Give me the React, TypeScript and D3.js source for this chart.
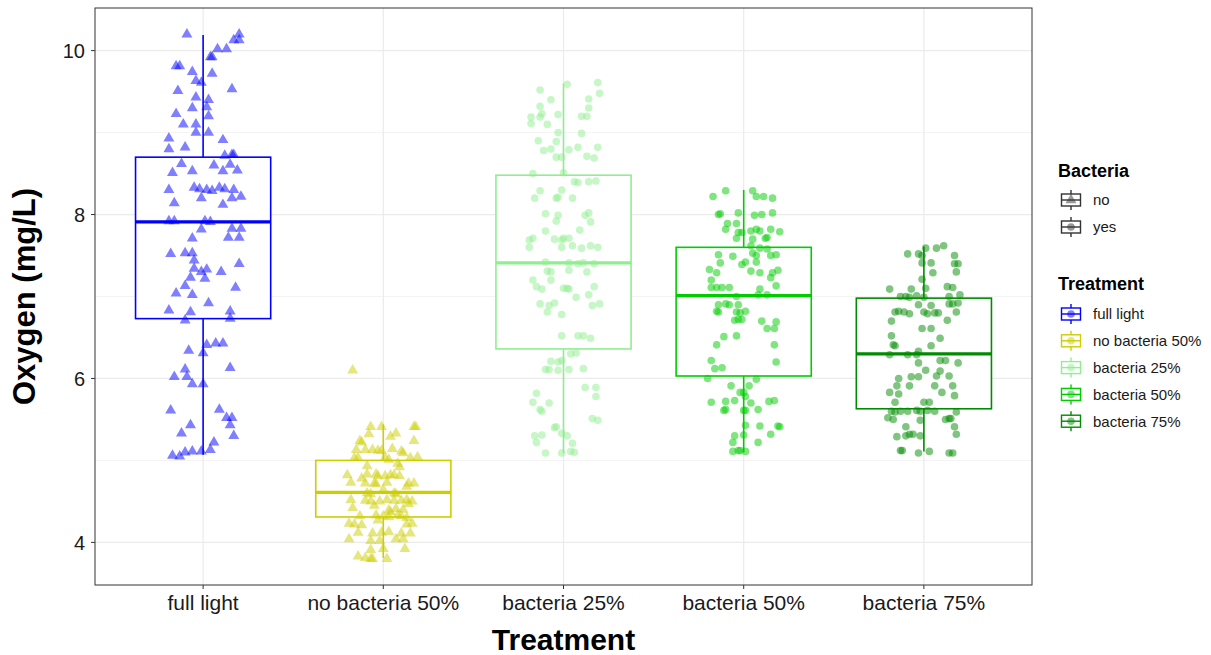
import React, { useEffect, useRef } from "react";
import * as d3 from "d3";

const categories = ["full light", "no bacteria 50%", "bacteria 25%", "bacteria 50%", "bacteria 75%"];
const colors = ["#0000FF", "#CDCD00", "#90EE90", "#00CD00", "#008B00"];
const bacteria = ["no", "no", "yes", "yes", "yes"];
const yTicks = [4, 6, 8, 10];
const yMinor = [5, 7, 9];

// box stats: [whiskerLow, q1, median, q3, whiskerHigh]
const boxStats: number[][] = [
  [5.07, 6.73, 7.91, 8.7, 10.19],
  [3.81, 4.31, 4.61, 5.0, 5.44],
  [5.09, 6.36, 7.41, 8.48, 9.6],
  [5.1, 6.03, 7.01, 7.6, 8.3],
  [5.11, 5.63, 6.3, 6.98, 7.61],
];

// jittered points: [jitter offset in category units, oxygen value]
const fullLight: number[][] = [
  [-0.09,10.2],[0.2,10.2],[0.17,10.13],[0.2,10.13],[0.08,10.02],[0.13,10.02],[0.04,9.92],[0.05,9.92],[-0.15,9.81],[-0.13,9.81],
  [-0.06,9.74],[0.05,9.72],[-0.04,9.63],[-0.01,9.61],[-0.14,9.51],[0.16,9.53],[-0.04,9.43],[0.03,9.4],[-0.06,9.3],[0.02,9.31],
  [-0.15,9.23],[0.03,9.2],[-0.11,9.1],[-0.04,9.1],[-0.04,9.0],[0.03,9.0],[-0.19,8.93],[0.11,8.91],[-0.19,8.8],[-0.1,8.82],
  [0.12,8.72],[0.16,8.73],[0.17,8.73],[-0.12,8.62],[0.06,8.6],[0.15,8.61],[-0.17,8.51],[-0.06,8.53],[0.11,8.53],[0.19,8.54],
  [-0.19,8.3],[-0.05,8.33],[-0.02,8.31],[0.02,8.3],[0.05,8.29],[0.09,8.33],[0.12,8.31],[0.17,8.3],[0.16,8.2],[0.21,8.22],
  [-0.01,8.2],[-0.16,8.14],[0.11,8.12],[-0.19,7.92],[-0.16,7.92],[0.01,7.92],[0.04,7.91],[0.16,7.83],[0.21,7.83],[-0.01,7.82],
  [-0.06,7.71],[0.14,7.72],[0.2,7.72],[-0.18,7.52],[-0.1,7.53],[-0.06,7.53],[-0.05,7.44],[-0.05,7.34],[0.02,7.33],[-0.01,7.3],
  [0.1,7.3],[-0.07,7.23],[0.01,7.22],[0.2,7.4],[-0.1,7.13],[0.18,7.11],[-0.15,7.04],[-0.06,7.02],[0.03,6.92],[-0.19,6.83],
  [-0.07,6.81],[0.15,6.82],[-0.1,6.71],[0.15,6.73],[0.02,6.41],[0.07,6.43],[0.11,6.43],[-0.08,6.34],[0.0,6.31],[-0.1,6.11],
  [0.15,6.13],[-0.16,6.02],[-0.09,6.02],[-0.06,5.93],[0.0,5.93],[-0.18,5.61],[0.09,5.62],[-0.07,5.43],[0.13,5.52],[0.16,5.52],
  [0.15,5.43],[0.17,5.3],[-0.12,5.33],[0.06,5.22],[0.04,5.13],[-0.01,5.11],[-0.06,5.11],[-0.1,5.1],[-0.17,5.06],[-0.13,5.05],
];

const noBacteria50: number[][] = [
  [-0.17,6.1],[-0.07,5.41],[-0.01,5.41],[0.17,5.41],[0.18,5.41],[-0.08,5.32],[0.07,5.33],[0.04,5.29],[-0.13,5.24],[-0.12,5.22],
  [0.17,5.24],[-0.15,5.13],[-0.1,5.13],[-0.06,5.13],[-0.03,5.12],[-0.01,5.12],[0.05,5.14],[0.1,5.11],[0.11,5.09],[-0.16,5.03],
  [-0.14,5.03],[0.01,5.03],[0.03,5.01],[0.15,5.03],[0.19,5.04],[-0.09,4.93],[0.09,4.92],[-0.2,4.82],[-0.09,4.83],[-0.04,4.83],
  [-0.03,4.81],[0.01,4.81],[0.04,4.82],[0.06,4.82],[0.09,4.81],[-0.18,4.73],[-0.1,4.72],[-0.05,4.72],[-0.04,4.71],[0.02,4.73],
  [0.14,4.72],[0.17,4.72],[0.13,4.68],[-0.09,4.6],[-0.07,4.59],[0.06,4.6],[0.07,4.59],[-0.18,4.52],[-0.1,4.51],[-0.07,4.5],
  [-0.02,4.5],[0.02,4.52],[0.06,4.51],[0.1,4.51],[0.13,4.52],[0.16,4.5],[-0.17,4.42],[0.03,4.39],[0.04,4.37],[0.07,4.41],
  [0.11,4.4],[-0.04,4.33],[0.0,4.32],[0.03,4.31],[0.08,4.33],[0.1,4.32],[0.13,4.3],[-0.13,4.32],[-0.19,4.23],[-0.16,4.22],
  [-0.12,4.21],[0.13,4.22],[0.16,4.23],[-0.14,4.12],[-0.06,4.11],[-0.01,4.12],[0.03,4.13],[0.1,4.11],[0.15,4.11],[-0.19,4.04],
  [-0.07,4.02],[-0.02,4.02],[0.07,4.04],[0.11,4.04],[-0.07,3.91],[0.0,3.92],[0.12,3.92],[-0.14,3.83],[-0.1,3.81],[-0.07,3.8],
  [-0.06,3.8],[0.02,3.8],[-0.05,4.45],[0.0,4.64],[-0.12,4.78],[0.08,4.96],[-0.03,4.27],[0.14,4.47],
];

const bacteria25: number[][] = [
  [0.02,9.59],[0.19,9.61],[0.2,9.48],[-0.13,9.52],[-0.07,9.4],[0.14,9.41],[-0.13,9.32],[0.14,9.3],[-0.12,9.23],[-0.13,9.19],
  [-0.18,9.19],[-0.03,9.22],[0.1,9.2],[0.13,9.2],[-0.18,9.11],[-0.09,9.1],[-0.03,9.0],[0.1,8.99],[-0.14,8.9],[-0.04,8.89],
  [-0.11,8.78],[-0.07,8.8],[0.03,8.79],[0.08,8.82],[0.19,8.82],[-0.04,8.7],[-0.01,8.7],[0.13,8.71],[0.17,8.69],[-0.17,8.5],
  [0.0,8.51],[0.06,8.4],[0.08,8.39],[0.14,8.4],[0.18,8.41],[-0.13,8.29],[-0.01,8.3],[-0.16,8.2],[-0.04,8.2],[-0.03,8.21],
  [0.05,8.2],[-0.1,8.01],[-0.03,7.99],[0.12,7.99],[0.14,8.02],[-0.04,7.92],[0.15,7.91],[-0.1,7.8],[0.09,7.81],[-0.19,7.69],
  [-0.17,7.71],[-0.05,7.7],[-0.01,7.69],[0.0,7.71],[0.03,7.71],[-0.19,7.6],[-0.01,7.6],[0.05,7.62],[0.1,7.59],[0.15,7.62],
  [0.19,7.6],[-0.1,7.42],[0.03,7.41],[0.08,7.4],[0.11,7.41],[0.17,7.4],[-0.09,7.31],[-0.07,7.3],[0.03,7.32],[0.13,7.3],
  [-0.17,7.2],[-0.07,7.2],[-0.15,7.12],[-0.12,7.09],[0.0,7.1],[0.03,7.09],[0.02,7.1],[0.17,7.12],[0.07,6.99],[0.14,7.02],
  [-0.13,6.91],[-0.08,6.89],[-0.05,6.92],[0.16,6.89],[0.2,6.91],[-0.09,6.81],[-0.01,6.78],[-0.01,6.52],[0.08,6.52],[0.11,6.52],
  [0.15,6.49],[0.04,6.3],[0.07,6.31],[-0.07,6.21],[-0.03,6.2],[-0.01,6.22],[-0.1,6.11],[-0.08,6.11],[-0.03,6.1],[0.03,6.11],
  [0.11,6.12],[0.12,5.89],[0.18,5.89],[0.18,5.78],[-0.15,5.82],[-0.17,5.71],[-0.08,5.7],[-0.13,5.62],[-0.12,5.6],[0.16,5.51],
  [0.19,5.49],[-0.05,5.4],[-0.04,5.41],[-0.16,5.3],[-0.12,5.31],[-0.01,5.33],[0.02,5.3],[-0.15,5.22],[0.05,5.21],[-0.1,5.09],
  [-0.01,5.09],[0.04,5.11],[0.06,5.1],
];

const bacteria50: number[][] = [
  [-0.1,8.29],[0.05,8.29],[-0.17,8.22],[0.07,8.22],[0.11,8.22],[0.16,8.2],[-0.14,8.0],[-0.13,8.01],[-0.03,8.02],[0.06,7.99],
  [0.1,8.0],[0.16,8.02],[-0.09,7.89],[-0.04,7.89],[-0.1,7.82],[-0.03,7.78],[-0.01,7.78],[0.04,7.8],[0.07,7.82],[0.09,7.8],
  [0.15,7.82],[0.2,7.79],[-0.04,7.71],[0.05,7.7],[0.12,7.71],[0.13,7.72],[0.04,7.62],[0.09,7.59],[0.13,7.58],[-0.14,7.51],
  [-0.06,7.49],[0.05,7.53],[0.07,7.5],[0.15,7.5],[0.18,7.51],[-0.13,7.41],[-0.01,7.39],[0.01,7.42],[0.07,7.42],[-0.19,7.33],
  [-0.15,7.29],[0.04,7.31],[0.09,7.29],[0.16,7.29],[0.19,7.32],[-0.18,7.2],[0.15,7.23],[-0.18,7.11],[-0.15,7.11],[-0.12,7.11],
  [-0.08,7.11],[0.18,7.13],[0.09,7.09],[0.08,7.02],[0.13,7.02],[-0.04,7.0],[-0.14,6.9],[-0.1,6.91],[-0.08,6.9],[-0.03,6.9],
  [-0.15,6.82],[-0.14,6.81],[-0.04,6.81],[-0.02,6.8],[0.01,6.82],[-0.05,6.71],[-0.03,6.72],[-0.01,6.72],[0.1,6.7],[0.18,6.69],
  [0.13,6.61],[0.17,6.61],[-0.11,6.51],[-0.04,6.52],[-0.15,6.41],[0.17,6.41],[-0.18,6.22],[0.18,6.2],[-0.16,6.12],[-0.12,6.13],
  [-0.2,6.0],[0.07,5.99],[-0.07,5.91],[0.03,5.91],[-0.02,5.83],[0.0,5.83],[0.01,5.78],[-0.18,5.71],[-0.1,5.72],[-0.05,5.73],
  [0.04,5.7],[0.14,5.72],[0.17,5.73],[-0.11,5.61],[-0.1,5.62],[0.0,5.61],[0.01,5.61],[0.08,5.62],[0.01,5.43],[0.09,5.42],
  [0.19,5.42],[0.2,5.41],[-0.05,5.3],[0.0,5.31],[0.15,5.32],[-0.06,5.22],[0.08,5.22],[-0.06,5.11],[-0.03,5.12],[-0.02,5.12],
  [0.01,5.11],
];

const bacteria75: number[][] = [
  [0.01,7.59],[0.07,7.59],[0.11,7.62],[-0.09,7.52],[-0.03,7.52],[-0.01,7.5],[0.17,7.5],[-0.01,7.41],[0.04,7.41],[0.17,7.4],
  [0.19,7.4],[0.05,7.29],[0.18,7.3],[-0.01,7.21],[-0.19,7.09],[-0.07,7.09],[0.01,7.1],[0.13,7.12],[0.16,7.11],[-0.13,7.0],
  [-0.1,7.0],[-0.08,6.99],[-0.04,7.01],[0.0,6.99],[0.14,7.0],[0.2,7.02],[-0.03,6.9],[0.04,6.89],[0.14,6.91],[0.16,6.91],
  [0.19,6.92],[-0.16,6.81],[-0.14,6.82],[-0.11,6.81],[-0.08,6.79],[0.0,6.81],[0.02,6.79],[0.06,6.8],[0.08,6.8],[0.18,6.81],
  [-0.18,6.7],[0.13,6.71],[-0.01,6.61],[0.04,6.61],[-0.18,6.52],[0.09,6.49],[-0.17,6.41],[-0.16,6.4],[0.04,6.4],[-0.19,6.29],
  [-0.09,6.29],[-0.04,6.29],[-0.03,6.33],[-0.03,6.19],[0.09,6.22],[0.12,6.22],[0.19,6.19],[0.01,6.1],[0.09,6.09],[-0.14,6.0],
  [-0.03,6.02],[-0.07,6.02],[0.07,6.03],[0.14,6.03],[-0.15,5.91],[-0.08,5.91],[0.06,5.91],[0.16,5.91],[-0.19,5.83],[-0.14,5.81],
  [0.1,5.83],[0.17,5.79],[-0.16,5.71],[0.0,5.71],[0.03,5.71],[-0.18,5.6],[-0.16,5.59],[-0.13,5.6],[-0.09,5.6],[-0.04,5.61],
  [-0.02,5.6],[0.02,5.61],[0.06,5.6],[0.18,5.59],[-0.2,5.52],[-0.17,5.5],[-0.02,5.49],[0.12,5.5],[0.14,5.51],[0.15,5.51],
  [-0.1,5.41],[0.17,5.41],[-0.15,5.29],[-0.1,5.3],[-0.08,5.32],[-0.06,5.32],[-0.02,5.3],[0.18,5.32],[-0.13,5.12],[-0.12,5.12],
  [-0.03,5.09],[0.03,5.11],[0.14,5.09],[0.16,5.09],
];

const pointsByCat = [fullLight, noBacteria50, bacteria25, bacteria50, bacteria75];

const W = 1211;
const H = 655;
const M = { left: 95, top: 8, right: 1032, bottom: 585 };
const FONT = "'Liberation Sans', Arial, Helvetica, sans-serif";

export default function App() {
  const ref = useRef<SVGSVGElement | null>(null);

  useEffect(() => {
    const svg = d3.select(ref.current);
    svg.selectAll("*").remove();

    const allVals: number[] = [];
    pointsByCat.forEach((arr) => arr.forEach((p) => allVals.push(p[1])));
    boxStats.forEach((b) => b.forEach((v) => allVals.push(v)));
    const lo = d3.min(allVals) as number;
    const hi = d3.max(allVals) as number;
    const pad = (hi - lo) * 0.05;

    const y = d3.scaleLinear().domain([lo - pad, hi + pad]).range([M.bottom, M.top]);
    const x = d3.scalePoint<string>().domain(categories).range([M.left, M.right]).padding(0.6);
    const step = x.step();
    const boxW = step * 0.75;

    svg.append("rect").attr("x", 0).attr("y", 0).attr("width", W).attr("height", H).attr("fill", "white");

    const g = svg.append("g");
    g.selectAll(".ymin").data(yMinor).join("line")
      .attr("x1", M.left).attr("x2", M.right)
      .attr("y1", (d) => y(d)).attr("y2", (d) => y(d))
      .attr("stroke", "#ebebeb").attr("stroke-width", 0.6);
    g.selectAll(".ymaj").data(yTicks).join("line")
      .attr("x1", M.left).attr("x2", M.right)
      .attr("y1", (d) => y(d)).attr("y2", (d) => y(d))
      .attr("stroke", "#ebebeb").attr("stroke-width", 1.2);
    g.selectAll(".xmaj").data(categories).join("line")
      .attr("x1", (d) => x(d) as number).attr("x2", (d) => x(d) as number)
      .attr("y1", M.top).attr("y2", M.bottom)
      .attr("stroke", "#ebebeb").attr("stroke-width", 1.2);

    categories.forEach((c, i) => {
      const cx = x(c) as number;
      const [wl, q1, med, q3, wh] = boxStats[i];
      const col = colors[i];
      g.append("line").attr("x1", cx).attr("x2", cx).attr("y1", y(q3)).attr("y2", y(wh)).attr("stroke", col).attr("stroke-width", 1.6);
      g.append("line").attr("x1", cx).attr("x2", cx).attr("y1", y(q1)).attr("y2", y(wl)).attr("stroke", col).attr("stroke-width", 1.6);
      g.append("rect").attr("x", cx - boxW / 2).attr("width", boxW)
        .attr("y", y(q3)).attr("height", y(q1) - y(q3))
        .attr("fill", "white").attr("stroke", col).attr("stroke-width", 1.6);
      g.append("line").attr("x1", cx - boxW / 2).attr("x2", cx + boxW / 2).attr("y1", y(med)).attr("y2", y(med))
        .attr("stroke", col).attr("stroke-width", 3.2);
    });

    const tri = d3.symbol().type(d3.symbolTriangle).size(52)();
    categories.forEach((c, i) => {
      const cx = x(c) as number;
      const col = colors[i];
      const pts = pointsByCat[i];
      if (bacteria[i] === "no") {
        g.append("g").selectAll("path").data(pts).join("path")
          .attr("d", tri as string)
          .attr("transform", (d) => `translate(${cx + d[0] * step},${y(d[1])})`)
          .attr("fill", col).attr("fill-opacity", 0.5);
      } else {
        g.append("g").selectAll("circle").data(pts).join("circle")
          .attr("cx", (d) => cx + d[0] * step).attr("cy", (d) => y(d[1])).attr("r", 3.8)
          .attr("fill", col).attr("fill-opacity", 0.5);
      }
    });

    svg.append("rect").attr("x", M.left).attr("y", M.top)
      .attr("width", M.right - M.left).attr("height", M.bottom - M.top)
      .attr("fill", "none").attr("stroke", "#333333").attr("stroke-width", 1);

    const ax = svg.append("g");
    ax.selectAll(".yt").data(yTicks).join("line")
      .attr("x1", M.left - 4).attr("x2", M.left).attr("y1", (d) => y(d)).attr("y2", (d) => y(d))
      .attr("stroke", "#333333").attr("stroke-width", 1);
    ax.selectAll(".ytl").data(yTicks).join("text")
      .attr("x", M.left - 10).attr("y", (d) => y(d)).attr("dy", "0.36em")
      .attr("text-anchor", "end").attr("font-family", FONT).attr("font-size", 20).attr("fill", "#1a1a1a")
      .text((d) => String(d));
    ax.selectAll(".xt").data(categories).join("line")
      .attr("x1", (d) => x(d) as number).attr("x2", (d) => x(d) as number)
      .attr("y1", M.bottom).attr("y2", M.bottom + 4)
      .attr("stroke", "#333333").attr("stroke-width", 1);
    ax.selectAll(".xtl").data(categories).join("text")
      .attr("x", (d) => x(d) as number).attr("y", 610)
      .attr("text-anchor", "middle").attr("font-family", FONT).attr("font-size", 21).attr("fill", "#1a1a1a")
      .text((d) => d);

    svg.append("text").attr("x", (M.left + M.right) / 2).attr("y", 650)
      .attr("text-anchor", "middle").attr("font-family", FONT).attr("font-size", 30).attr("font-weight", "bold")
      .text("Treatment");
    svg.append("text")
      .attr("transform", `translate(35,${(M.top + M.bottom) / 2}) rotate(-90)`)
      .attr("text-anchor", "middle").attr("font-family", FONT).attr("font-size", 31).attr("font-weight", "bold")
      .text("Oxygen (mg/L)");

    const lg = svg.append("g");
    const keyX = 1071;
    const drawKey = (cy: number, col: string, shape: string, fillCol: string) => {
      lg.append("line").attr("x1", keyX).attr("x2", keyX).attr("y1", cy - 10).attr("y2", cy + 10)
        .attr("stroke", col).attr("stroke-width", 1.4);
      lg.append("rect").attr("x", keyX - 9.5).attr("y", cy - 6).attr("width", 19).attr("height", 12)
        .attr("fill", "white").attr("stroke", col).attr("stroke-width", 1.4);
      lg.append("line").attr("x1", keyX - 9.5).attr("x2", keyX + 9.5).attr("y1", cy).attr("y2", cy)
        .attr("stroke", col).attr("stroke-width", 1.4);
      if (shape === "tri") {
        lg.append("path").attr("d", tri as string).attr("transform", `translate(${keyX},${cy})`)
          .attr("fill", fillCol).attr("fill-opacity", 0.5);
      } else {
        lg.append("circle").attr("cx", keyX).attr("cy", cy).attr("r", 3.8)
          .attr("fill", fillCol).attr("fill-opacity", 0.5);
      }
    };
    const legendText = (tx: number, ty: number, s: string, bold: boolean, size: number) =>
      lg.append("text").attr("x", tx).attr("y", ty).attr("dy", bold ? "0" : "0.36em")
        .attr("font-family", FONT).attr("font-size", size).attr("font-weight", bold ? "bold" : "normal")
        .attr("fill", bold ? "#000" : "#1a1a1a").text(s);

    legendText(1058, 177, "Bacteria", true, 18);
    const bacLevels = ["no", "yes"];
    bacLevels.forEach((b, i) => {
      const cy = 200 + i * 27;
      drawKey(cy, "#333333", b === "no" ? "tri" : "circ", "#333333");
      legendText(1093, cy, b, false, 15);
    });

    legendText(1058, 290, "Treatment", true, 18);
    categories.forEach((c, i) => {
      const cy = 314 + i * 26.8;
      drawKey(cy, colors[i], "circ", colors[i]);
      legendText(1093, cy, c, false, 15);
    });
  }, []);

  return (
    <svg
      ref={ref}
      width={W}
      height={H}
      style={{ position: "absolute", left: 0, top: 0, display: "block" }}
    />
  );
}
